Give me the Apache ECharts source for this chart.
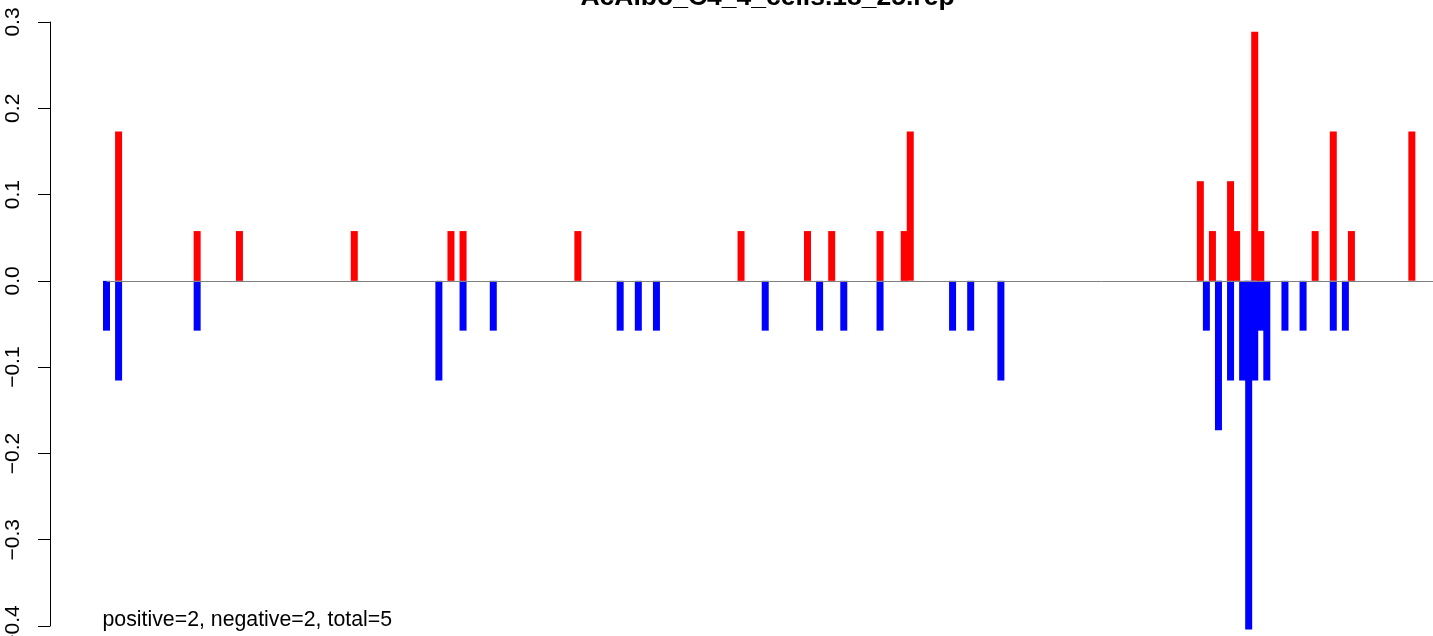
<!DOCTYPE html>
<html><head><meta charset="utf-8">
<script src="https://cdn.jsdelivr.net/npm/echarts@6/dist/echarts.min.js"></script>
<style>html,body{margin:0;padding:0;background:#fff}#c{width:1433px;height:636px}</style>
</head><body><div id="c"></div>
<script>
const chartTitle = 'AcAlbo_C4_4_cells.18_25.rep';
const note = 'positive=2, negative=2, total=5';
// site positions along the sequence
const sites = [1,3,16,23,42,56,58,60,65,79,86,89,92,106,110,117,119,121,123,129,133,134,141,144,149,
               182,183,184,185,187,188,189,190,191,192,193,196,199,201,204,206,207,217];
// positive (red) values per site, 0 = none
const positive = [0,0.1732,0.0577,0.0577,0.0577,0,0.0577,0.0577,0,0.0577,0,0,0,0.0577,0,0.0577,0,0.0577,0,0.0577,0.0577,0.1732,0,0,0,
                  0.1155,0,0.0577,0,0.1155,0.0577,0,0,0.2887,0.0577,0,0,0,0.0577,0.1732,0,0.0577,0.1732];
// negative (blue) values per site, 0 = none
const negative = [-0.0577,-0.1155,-0.0577,0,0,-0.1155,0,-0.0577,-0.0577,0,-0.0577,-0.0577,-0.0577,0,-0.0577,0,-0.0577,0,-0.0577,-0.0577,0,0,-0.0577,-0.0577,-0.1155,
                  0,-0.0577,0,-0.1732,-0.1155,0,-0.1155,-0.4041,-0.1155,-0.0577,-0.1155,-0.0577,-0.0577,0,-0.0577,-0.0577,0,0];
const yTicks = [-0.4,-0.3,-0.2,-0.1,0.0,0.1,0.2,0.3];

const xMin = -8.35, xMax = 220.5;
const FONT = '"Liberation Sans", Arial, Helvetica, sans-serif';

const posData = [], negData = [];
sites.forEach((s, i) => {
  if (positive[i] !== 0) posData.push([s, positive[i]]);
  if (negative[i] !== 0) negData.push([s, negative[i]]);
});

const chart = echarts.init(document.getElementById('c'), null, {renderer: 'canvas'});
chart.setOption({
  animation: false,
  backgroundColor: '#ffffff',
  grid: {left: 50, right: 0, top: 22, height: 604, containLabel: false, outerBoundsMode: 'none'},
  xAxis: {
    type: 'value', min: xMin, max: xMax, show: false,
    splitLine: {show: false}
  },
  yAxis: {
    type: 'value', min: yTicks[0], max: yTicks[yTicks.length - 1], interval: 0.1,
    axisLine: {show: true, onZero: false, lineStyle: {color: '#000', width: 1}},
    axisTick: {show: true, length: 12, lineStyle: {color: '#000', width: 1}},
    splitLine: {show: false},
    axisLabel: {
      rotate: 90, margin: 26, color: '#000', fontSize: 21, fontFamily: FONT,
      formatter: v => (Math.round(v * 10) / 10).toFixed(1).replace('-', '\u2212')
    }
  },
  series: [
    {
      type: 'bar', name: 'positive', data: posData, barWidth: 7, barGap: '-100%',
      itemStyle: {color: '#ff0000'}, clip: false,
      markLine: {
        silent: true, symbol: ['none', 'none'], label: {show: false},
        lineStyle: {color: '#808080', width: 1, type: 'solid'},
        data: [[{coord: [sites[0], 0]}, {coord: [xMax, 0]}]]
      }
    },
    {
      type: 'bar', name: 'negative', data: negData, barWidth: 7, barGap: '-100%',
      itemStyle: {color: '#0000ff'}, clip: false
    }
  ],
  graphic: [
    {type: 'text', x: 767.5, y: -2, style: {text: chartTitle, font: 'bold 26.5px ' + FONT, fill: '#000', textAlign: 'center', textVerticalAlign: 'middle'}},
    {type: 'text', x: 102.5, y: 620, style: {text: note, font: '21.3px ' + FONT, fill: '#000', textAlign: 'left', textVerticalAlign: 'middle'}}
  ]
});
</script></body></html>
